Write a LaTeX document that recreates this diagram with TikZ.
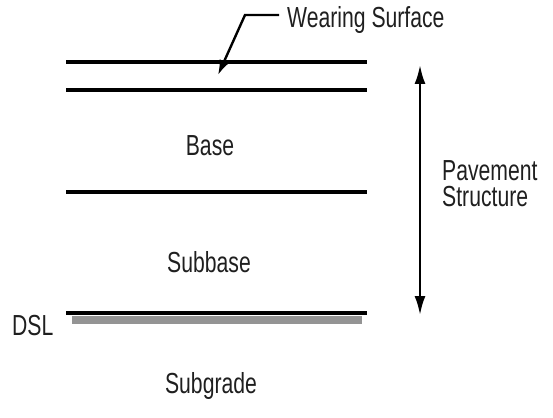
\documentclass[tikz,border=0pt]{standalone}
\usepackage{fontspec}
\setmainfont{Liberation Sans}[FakeStretch=0.73]
\usetikzlibrary{arrows.meta}
\begin{document}
\begin{tikzpicture}[x=1pt,y=-1pt,
  layer/.style={line width=3.5pt, black},
  lbl/.style={inner sep=0pt, font=\fontsize{29}{26}\selectfont, text=black!88},
  dimarrow/.style={line width=2.4pt, {Latex[length=19pt,width=11pt]}-{Latex[length=19pt,width=11pt]}},
  leader/.style={line width=2.4pt, -{Latex[length=15pt,width=10pt]}},
]
\useasboundingbox (0,0) rectangle (553,417);
% layer boundaries
\coordinate (l1a) at (66,62);  \coordinate (l1b) at (367,62);
\coordinate (l2a) at (66,90);  \coordinate (l2b) at (367,90);
\coordinate (l3a) at (66,192); \coordinate (l3b) at (367,192);
\coordinate (l4a) at (66,313); \coordinate (l4b) at (367,313);
\fill[black!42] (72,316) rectangle (362,324);
\draw[layer] (l1a) -- (l1b);
\draw[layer] (l2a) -- (l2b);
\draw[layer] (l3a) -- (l3b);
\draw[layer] (l4a) -- (l4b);
% labels
\node[lbl, anchor=base west] (ws) at (287,28) {Wearing Surface};
\node[lbl, anchor=base] (base) at (210,155) {Base};
\node[lbl, anchor=base] (subbase) at (209,272) {Subbase};
\node[lbl, anchor=base] (subgrade) at (211,393) {Subgrade};
\node[lbl, anchor=base west] (dsl) at (12,335) {DSL};
\node[lbl, anchor=base west, align=left] (pav) at (442,206) {Pavement\\Structure};
% leader arrow
\coordinate (lead) at (279,15);
\coordinate (bend) at (245,15);
\coordinate (tip) at (218,75);
\draw[leader] (lead) -- (bend) -- (tip);
% pavement structure dimension
\coordinate (dtop) at (420,65);
\coordinate (dbot) at (420,315);
\draw[dimarrow] (dtop) -- (dbot);
\end{tikzpicture}
\end{document}
